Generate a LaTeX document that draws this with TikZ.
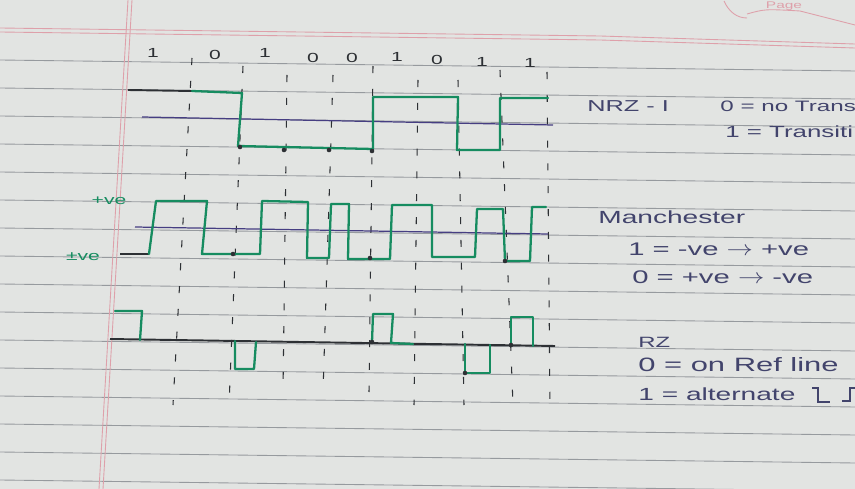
\documentclass[tikz,border=0pt]{standalone}
\usepackage{fontspec}
\newfontfamily\handfont[FakeStretch=1.6]{Liberation Sans}
\definecolor{paper}{RGB}{226,228,226}
\definecolor{rulegray}{RGB}{150,154,158}
\definecolor{marginpink}{RGB}{222,160,170}
\definecolor{inkgreen}{RGB}{22,140,96}
\definecolor{inkdark}{RGB}{45,48,52}
\definecolor{inkblue}{RGB}{66,68,108}
\definecolor{reflineblue}{RGB}{70,62,130}
\newcommand{\handarrow}{\scalebox{1.5}[1.2]{$\rightarrow$}}

\begin{document}
\begin{tikzpicture}[x=0.02cm,y=-0.02cm,
  ruling/.style={rulegray,line width=0.5pt},
  marginline/.style={marginpink,line width=0.5pt},
  wave/.style={inkgreen,line width=1.3pt,line join=round,line cap=round},
  darkwave/.style={inkdark,line width=1.1pt,line join=round},
  refline/.style={reflineblue,line width=0.7pt},
  tickline/.style={inkdark,line width=0.6pt,dash pattern=on 4pt off 9pt},
  bitlabel/.style={inkdark,inner sep=0pt,font=\handfont\fontsize{7.5}{8}\selectfont},
  notetext/.style={inkblue,anchor=west,inner sep=0pt},
  bitdot/.style={circle,fill=inkdark,inner sep=0pt,minimum size=2.6pt}]
\useasboundingbox (0,0) rectangle (855,489);
\fill[paper] (0,0) rectangle (855,489);
% notebook page
\foreach \k in {0,...,15}
  \draw[ruling] (0,60+28*\k) -- (855,71+28*\k);
\draw[marginline] (0,28) -- (600,36) -- (855,44);
\draw[marginline] (0,32) -- (600,40) -- (855,48);
\draw[marginline] (128,0) -- (99,489);
\draw[marginline] (132,0) -- (103,489);
\draw[marginline] (724,1) .. controls (729,12) and (737,18) .. (747,18);
\draw[marginline] (747,14) .. controls (765,9) .. (800,11) -- (855,25);
\node[marginpink,inner sep=0pt,font=\handfont\fontsize{5.5}{6}\selectfont] (pagemark) at (784,6) {Page};

% bit boundaries
\foreach \xt/\yt/\xb/\yb in {192/58/173/405, 243/66/229/405, 287/75/283/392,
    333/75/323/392, 373/66/369/392, 418/80/414/405, 458/80/464/405,
    500/70/513/405, 547/72/550/408}
  \draw[tickline] (\xt,\yt) -- (\xb,\yb);

% data bits
\foreach \b/\x/\y [count=\i] in {1/153/53, 0/215/55, 1/265/53, 0/313/58, 0/352/58,
    1/397/57, 0/437/60, 1/482/62, 1/530/63}
  \node[bitlabel] (bit\i) at (\x,\y) {\b};

% NRZ-I
\draw[refline] (142,117) -- (553,125);
\draw[darkwave] (128,90) -- (192,91);
\draw[wave] (192,91) -- (242,93) -- (238,146) -- (373,149) -- (373,97) -- (458,97)
  -- (457,150) -- (500,150) -- (500,98) -- (548,98);

% Manchester
\draw[refline] (135,227) -- (548,234);
\draw[darkwave] (120,254) -- (149,254);
\draw[wave] (149,254) -- (156,201) -- (207,201) -- (202,254) -- (260,254) -- (262,201)
  -- (308,202) -- (307,258) -- (329,258) -- (331,204) -- (349,204) -- (348,259)
  -- (390,259) -- (392,205) -- (432,205) -- (432,257) -- (475,257) -- (477,209)
  -- (503,209) -- (505,261) -- (530,261) -- (532,207) -- (546,207);

% RZ
\draw[darkwave] (110,339) -- (555,346);
\draw[wave] (115,311) -- (142,311) -- (140,340);
\draw[wave] (235,341) -- (235,369) -- (254,369) -- (256,342);
\draw[wave] (372,342) -- (373,314) -- (393,314) -- (391,343) -- (413,344);
\draw[wave] (465,344) -- (465,373) -- (490,373) -- (490,345);
\draw[wave] (511,345) -- (511,317) -- (533,317) -- (533,346);

\foreach \x/\y [count=\i] in {240/147, 284/150, 329/150, 372/151, 233/254, 370/258,
    505/261, 465/373, 511/345, 372/342}
  \node[bitdot] (dot\i) at (\x,\y) {};

% level marks
\node[inkgreen,inner sep=0pt,font=\handfont\fontsize{7.5}{8}\selectfont] (plusve) at (109,201) {+ve};
\node[inkgreen,inner sep=0pt,font=\handfont\fontsize{7.5}{8}\selectfont] (minusve) at (83,257) {±ve};

% notes
\node[notetext,font=\handfont\fontsize{9}{10}\selectfont] (nrzname) at (587,106) {NRZ - I};
\node[notetext,font=\handfont\fontsize{8.6}{10}\selectfont] (nrzzero) at (720,106) {0 = no Trans};
\node[notetext,font=\handfont\fontsize{9.2}{10}\selectfont] (nrzone) at (725,132) {1 = Transiti};
\node[notetext,font=\handfont\fontsize{10}{12}\selectfont] (manname) at (598,217) {Manchester};
\node[notetext,font=\handfont\fontsize{10.4}{12}\selectfont] (manone) at (628,249) {1 = -ve \handarrow{} +ve};
\node[notetext,font=\handfont\fontsize{10.4}{12}\selectfont] (manzero) at (632,277) {0 = +ve \handarrow{} -ve};
\node[notetext,font=\handfont\fontsize{8.5}{10}\selectfont] (rzname) at (638,342) {RZ};
\node[notetext,font=\handfont\fontsize{11}{12}\selectfont] (rzzero) at (638,365) {0 = on Ref line};
\node[notetext,font=\handfont\fontsize{10}{12}\selectfont] (rzone) at (638,394) {1 = alternate};
\draw[inkblue,line width=0.8pt] (812,388) -- (818,388) -- (818,402) -- (830,402);
\draw[inkblue,line width=0.8pt] (842,401) -- (850,401) -- (850,388) -- (856,388);
\end{tikzpicture}
\end{document}
